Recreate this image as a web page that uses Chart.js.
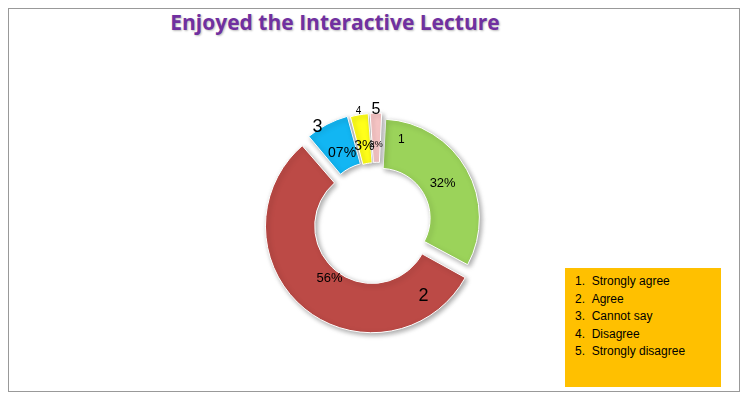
<!DOCTYPE html>
<html><head><meta charset="utf-8">
<script src="https://cdn.jsdelivr.net/npm/chart.js@4"></script>
<style>
body{margin:0;background:#fff;}
#wrap{position:relative;width:750px;height:400px;}
#frame{position:absolute;left:8px;top:8px;width:732px;height:384px;border:1px solid #999;box-sizing:border-box;}
#title{position:absolute;left:0;width:670px;top:8px;text-align:center;font:bold 21px "Open Sans",sans-serif;color:#7030a0;text-shadow:1px 1px 2px #bbb;}
#legend{position:absolute;left:565px;top:268px;width:156px;height:119px;background:#ffc000;font:12px "Liberation Sans",Arial,sans-serif;color:#000;box-sizing:border-box;padding:5px 0 0 10px;line-height:17.5px;}
canvas{position:absolute;left:0;top:0;}
</style></head><body>
<div id="wrap">
<div id="frame"></div>
<div id="title">Enjoyed the Interactive Lecture</div>
<canvas id="c" width="750" height="400"></canvas>
<div id="legend"></div>
</div>
<script>
const categories=["Strongly agree","Agree","Cannot say","Disagree","Strongly disagree"];
const numbers=["1","2","3","4","5"];
const values=[32,56,7,3,2];
const pctLabels=["32%","56%","07%","3%","2%"];
const colors=["#9bd35a","#bc4a46","#12b6f3","#ffff1a","#f8c6c6"];
const offsets=[16,32,24,18,18];
// label placement (fraction of angle span, radius factor) for number / percent text
const numPos=[[0.12,0.85],[0.15,0.9],[0.3,1.12],[0.5,1.12],[0.5,1.12]];
const numFont=[12,18,18,10,16];
const pctFont=[13,13,14,14,9];

document.getElementById('legend').innerHTML=categories.map((c,i)=>`<div>${numbers[i]}.&nbsp;&nbsp;${c}</div>`).join('');

const labelPlugin={id:'lbl',afterDatasetsDraw(chart){
 const ctx=chart.ctx;const meta=chart.getDatasetMeta(0);
 meta.data.forEach((arc,i)=>{
  const p=arc.getProps(['x','y','startAngle','endAngle','innerRadius','outerRadius']);
  const span=p.endAngle-p.startAngle;
  const mid=(p.startAngle+p.endAngle)/2;
  const rm=(p.innerRadius+p.outerRadius)/2;
  ctx.save();ctx.fillStyle='#000';ctx.textAlign='center';ctx.textBaseline='middle';
  ctx.font=pctFont[i]+'px "Liberation Sans",Arial,sans-serif';
  ctx.fillText(pctLabels[i],p.x+Math.cos(mid)*rm*1.02,p.y+Math.sin(mid)*rm*1.02);
  const a=p.startAngle+span*numPos[i][0];const r=p.outerRadius*numPos[i][1];
  ctx.font=numFont[i]+'px "Liberation Sans",Arial,sans-serif';
  ctx.fillText(numbers[i],p.x+Math.cos(a)*r,p.y+Math.sin(a)*r);
  ctx.restore();
 });
},
beforeDatasetsDraw(chart){const c=chart.ctx;c.save();c.shadowColor='rgba(0,0,0,0.35)';c.shadowBlur=5;c.shadowOffsetX=2;c.shadowOffsetY=2;},
afterDatasetDraw(chart){chart.ctx.restore();}
};

new Chart(document.getElementById('c'),{
 type:'doughnut',
 data:{labels:categories,datasets:[{data:values,backgroundColor:colors,borderColor:'#fff',borderWidth:1,offset:offsets}]},
 options:{responsive:false,animation:false,cutout:'50%',rotation:3,
  layout:{padding:{left:262,right:258,top:105,bottom:65}},
  plugins:{legend:{display:false},tooltip:{enabled:false}}},
 plugins:[labelPlugin]
});
</script>
</body></html>
